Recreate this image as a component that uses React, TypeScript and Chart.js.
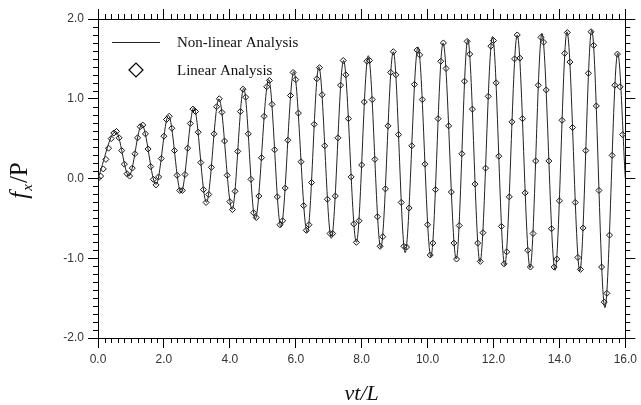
import React, { useEffect, useRef } from 'react';
import { Chart, registerables } from 'chart.js';

Chart.register(...registerables);

// Non-linear analysis: turning points of the response curve (vt/L, fx/P)
const nonLinearT = [0, 0.54, 0.94, 1.33, 1.76, 2.14, 2.52, 2.91, 3.29, 3.67, 4.07, 4.42, 4.77, 5.18, 5.55, 5.94, 6.35, 6.70, 7.08, 7.45, 7.84, 8.20, 8.58, 8.96, 9.32, 9.71, 10.10, 10.47, 10.87, 11.22, 11.59, 11.97, 12.34, 12.72, 13.11, 13.47, 13.87, 14.23, 14.62, 14.98, 15.38, 15.77, 16.0];
const nonLinearF = [0, 0.59, 0.03, 0.675, -0.075, 0.79, -0.18, 0.89, -0.30, 1.0, -0.39, 1.13, -0.51, 1.24, -0.61, 1.34, -0.68, 1.40, -0.75, 1.48, -0.80, 1.54, -0.87, 1.59, -0.93, 1.65, -0.98, 1.70, -1.01, 1.74, -1.05, 1.78, -1.09, 1.80, -1.12, 1.82, -1.15, 1.84, -1.16, 1.86, -1.62, 1.57, 0.0];

// Linear analysis: sampled points (diamonds)
const linearT = [
  0.00, 0.08, 0.16, 0.24, 0.32, 0.40, 0.48, 0.56, 0.64, 0.72, 0.80, 0.88, 0.96, 1.04, 1.12, 1.20, 1.28, 1.36, 1.44, 1.52,
  1.60, 1.68, 1.76, 1.84, 1.92, 2.00, 2.08, 2.16, 2.24, 2.32, 2.40, 2.48, 2.56, 2.64, 2.72, 2.80, 2.88, 2.96, 3.04, 3.12,
  3.20, 3.28, 3.36, 3.44, 3.52, 3.60, 3.68, 3.76, 3.84, 3.92, 4.00, 4.08, 4.16, 4.24, 4.32, 4.40, 4.48, 4.56, 4.64, 4.72,
  4.80, 4.88, 4.96, 5.04, 5.12, 5.20, 5.28, 5.36, 5.44, 5.52, 5.60, 5.68, 5.76, 5.84, 5.92, 6.00, 6.08, 6.16, 6.24, 6.32,
  6.40, 6.48, 6.56, 6.64, 6.72, 6.80, 6.88, 6.96, 7.04, 7.12, 7.20, 7.28, 7.36, 7.44, 7.52, 7.60, 7.68, 7.76, 7.84, 7.92,
  8.00, 8.08, 8.16, 8.24, 8.32, 8.40, 8.48, 8.56, 8.64, 8.72, 8.80, 8.88, 8.96, 9.04, 9.12, 9.20, 9.28, 9.36, 9.44, 9.52,
  9.60, 9.68, 9.76, 9.84, 9.92, 10.00, 10.08, 10.16, 10.24, 10.32, 10.40, 10.48, 10.56, 10.64, 10.72, 10.80, 10.88, 10.96, 11.04, 11.12,
  11.20, 11.28, 11.36, 11.44, 11.52, 11.60, 11.68, 11.76, 11.84, 11.92, 12.00, 12.08, 12.16, 12.24, 12.32, 12.40, 12.48, 12.56, 12.64, 12.72,
  12.80, 12.88, 12.96, 13.04, 13.12, 13.20, 13.28, 13.36, 13.44, 13.52, 13.60, 13.68, 13.76, 13.84, 13.92, 14.00, 14.08, 14.16, 14.24, 14.32,
  14.40, 14.48, 14.56, 14.64, 14.72, 14.80, 14.88, 14.96, 15.04, 15.12, 15.20, 15.28, 15.36, 15.44, 15.52, 15.60, 15.68, 15.76, 15.84, 15.92,
];
const linearF = [
  0.00, 0.03, 0.12, 0.24, 0.38, 0.50, 0.57, 0.59, 0.51, 0.35, 0.18, 0.06, 0.03, 0.13, 0.31, 0.51, 0.65, 0.67, 0.56, 0.37,
  0.15, -0.01, -0.08, 0.02, 0.25, 0.53, 0.74, 0.78, 0.63, 0.35, 0.04, -0.15, -0.15, 0.05, 0.38, 0.69, 0.87, 0.84, 0.58, 0.20,
  -0.14, -0.30, -0.20, 0.14, 0.56, 0.90, 1.00, 0.83, 0.47, 0.04, -0.29, -0.39, -0.16, 0.34, 0.84, 1.12, 1.02, 0.56, -0.01, -0.43,
  -0.49, -0.22, 0.26, 0.78, 1.15, 1.23, 0.93, 0.36, -0.23, -0.58, -0.53, -0.12, 0.48, 1.04, 1.33, 1.24, 0.82, 0.21, -0.34, -0.65,
  -0.58, -0.05, 0.68, 1.25, 1.39, 1.05, 0.41, -0.26, -0.69, -0.69, -0.22, 0.51, 1.17, 1.48, 1.30, 0.75, 0.02, -0.57, -0.80, -0.53,
  0.17, 0.96, 1.47, 1.48, 0.99, 0.24, -0.48, -0.85, -0.73, -0.13, 0.66, 1.33, 1.59, 1.30, 0.55, -0.30, -0.85, -0.86, -0.37, 0.41,
  1.18, 1.61, 1.55, 0.99, 0.18, -0.58, -0.96, -0.81, -0.14, 0.75, 1.47, 1.70, 1.38, 0.66, -0.17, -0.81, -1.01, -0.59, 0.31, 1.22,
  1.72, 1.56, 0.87, -0.07, -0.81, -1.04, -0.68, 0.13, 1.03, 1.66, 1.73, 1.20, 0.28, -0.60, -1.07, -0.92, -0.23, 0.71, 1.50, 1.80,
  1.51, 0.75, -0.18, -0.90, -1.11, -0.69, 0.22, 1.17, 1.77, 1.71, 1.11, 0.22, -0.63, -1.11, -1.01, -0.28, 0.73, 1.57, 1.83, 1.46,
  0.64, -0.30, -0.99, -1.14, -0.62, 0.35, 1.32, 1.84, 1.67, 0.91, -0.15, -1.11, -1.55, -1.44, -0.71, 0.29, 1.17, 1.56, 1.15, 0.55,
];

const xMin = 0;
const xMax = 16;
const xMajorStep = 2;
const xMinorStep = 0.2;
const yMin = -2;
const yMax = 2;
const yMajorStep = 1;
const yMinorStep = 0.1;

const seriesNames = ['Non-linear Analysis', 'Linear Analysis'];
const xTitle = 'vt/L';
const yTitleParts = ['f', 'x', '/P'];

const SERIF = '"Liberation Serif", "Times New Roman", serif';

export default function App() {
  const ref = useRef<HTMLCanvasElement>(null);

  useEffect(() => {
    document.body.style.margin = '0';
    const canvas = ref.current;
    if (!canvas) return;

    const decor = {
      id: 'decor',
      afterDraw(chart: any) {
        const ctx = chart.ctx as CanvasRenderingContext2D;
        const { left, right, top, bottom } = chart.chartArea;
        const sx = chart.scales.x;
        const sy = chart.scales.y;
        ctx.save();
        // minor ticks (outside) on all four sides
        ctx.strokeStyle = '#000';
        ctx.lineWidth = 1;
        ctx.beginPath();
        const nx = Math.round((xMax - xMin) / xMinorStep);
        const perMajX = Math.round(xMajorStep / xMinorStep);
        for (let k = 0; k <= nx; k++) {
          if (k % perMajX === 0) continue;
          const px = Math.round(sx.getPixelForValue(xMin + k * xMinorStep)) + 0.5;
          ctx.moveTo(px, bottom);
          ctx.lineTo(px, bottom + 5);
          ctx.moveTo(px, top);
          ctx.lineTo(px, top - 5);
        }
        const ny = Math.round((yMax - yMin) / yMinorStep);
        const perMajY = Math.round(yMajorStep / yMinorStep);
        for (let k = 0; k <= ny; k++) {
          if (k % perMajY === 0) continue;
          const py = Math.round(sy.getPixelForValue(yMin + k * yMinorStep)) + 0.5;
          ctx.moveTo(left, py);
          ctx.lineTo(left - 5, py);
          ctx.moveTo(right, py);
          ctx.lineTo(right + 5, py);
        }
        ctx.stroke();

        // legend inside plot
        const lx = left + 14;
        const ly1 = top + 23;
        const ly2 = top + 51;
        ctx.strokeStyle = '#222';
        ctx.lineWidth = 1;
        ctx.beginPath();
        ctx.moveTo(lx, Math.round(ly1) + 0.5);
        ctx.lineTo(lx + 48, Math.round(ly1) + 0.5);
        ctx.stroke();
        const dx = lx + 24;
        const r = 7;
        ctx.strokeStyle = '#000';
        ctx.lineWidth = 1.2;
        ctx.beginPath();
        ctx.moveTo(dx - r, ly2);
        ctx.lineTo(dx, ly2 - r);
        ctx.lineTo(dx + r, ly2);
        ctx.lineTo(dx, ly2 + r);
        ctx.closePath();
        ctx.stroke();
        ctx.fillStyle = '#111';
        ctx.font = '15px ' + SERIF;
        ctx.textBaseline = 'middle';
        ctx.textAlign = 'left';
        ctx.fillText(seriesNames[0], lx + 65, ly1 + 1);
        ctx.fillText(seriesNames[1], lx + 65, ly2 + 1);

        // x-axis title
        ctx.font = 'italic 22px ' + SERIF;
        ctx.textAlign = 'center';
        ctx.textBaseline = 'middle';
        ctx.fillText(xTitle, (left + right) / 2, bottom + 56);

        // y-axis title (rotated) f_x/P
        ctx.textAlign = 'left';
        const cy = (top + bottom) / 2 + 2;
        ctx.translate(27, cy);
        ctx.rotate(-Math.PI / 2);
        const big = 'italic 25px ' + SERIF;
        const small = 'italic 15px ' + SERIF;
        const upright = '25px ' + SERIF;
        ctx.textBaseline = 'alphabetic';
        ctx.font = big;
        const w0 = ctx.measureText(yTitleParts[0]).width;
        ctx.font = small;
        const w1 = ctx.measureText(yTitleParts[1]).width;
        ctx.font = upright;
        const w2 = ctx.measureText(yTitleParts[2]).width;
        let x0 = -(w0 + w1 + w2 + 2) / 2;
        ctx.font = big;
        ctx.fillText(yTitleParts[0], x0, 0);
        x0 += w0 + 1;
        ctx.font = small;
        ctx.fillText(yTitleParts[1], x0, 5);
        x0 += w1 + 1;
        ctx.font = upright;
        ctx.fillText(yTitleParts[2], x0, 0);
        ctx.restore();
      },
    };

    const tickFont = { family: '"Liberation Sans", Arial, sans-serif', size: 12 };
    const fmt = (v: any) => Number(v).toFixed(1);

    const chart = new Chart(canvas, {
      type: 'scatter',
      data: {
        datasets: [
          {
            label: seriesNames[0],
            data: nonLinearT.map((x, i) => ({ x, y: nonLinearF[i] })),
            showLine: true,
            pointRadius: 0,
            borderColor: '#222',
            borderWidth: 1,
            cubicInterpolationMode: 'monotone',
            order: 1,
          },
          {
            label: seriesNames[1],
            data: linearT.map((x, i) => ({ x, y: linearF[i] })),
            showLine: false,
            pointStyle: 'rectRot',
            pointRadius: 3,
            borderColor: '#111',
            borderWidth: 1,
            backgroundColor: 'rgba(255,255,255,0)',
            order: 2,
          },
        ],
      },
      options: {
        responsive: false,
        animation: false,
        devicePixelRatio: 1,
        layout: { padding: 0 },
        plugins: { legend: { display: false }, tooltip: { enabled: false } },
        scales: {
          x: {
            type: 'linear',
            axis: 'x',
            position: 'bottom',
            min: xMin,
            max: xMax,
            ticks: { stepSize: xMajorStep, callback: fmt, font: tickFont, color: '#333', padding: 4, maxRotation: 0, autoSkip: false },
            grid: { drawOnChartArea: false, drawTicks: true, tickLength: 10, color: '#000', lineWidth: 1 },
            border: { display: true, color: '#000', width: 1 },
            afterFit: (s: any) => { s.height = 67; },
          },
          x2: {
            type: 'linear',
            axis: 'x',
            position: 'top',
            min: xMin,
            max: xMax,
            ticks: { stepSize: xMajorStep, display: false },
            grid: { drawOnChartArea: false, drawTicks: true, tickLength: 10, color: '#000', lineWidth: 1 },
            border: { display: true, color: '#000', width: 1 },
            afterFit: (s: any) => { s.height = 19; },
          },
          y: {
            type: 'linear',
            axis: 'y',
            position: 'left',
            min: yMin,
            max: yMax,
            ticks: { stepSize: yMajorStep, callback: fmt, font: tickFont, color: '#333', padding: 4 },
            grid: { drawOnChartArea: false, drawTicks: true, tickLength: 10, color: '#000', lineWidth: 1 },
            border: { display: true, color: '#000', width: 1 },
            afterFit: (s: any) => { s.width = 98; },
          },
          y2: {
            type: 'linear',
            axis: 'y',
            position: 'right',
            min: yMin,
            max: yMax,
            ticks: { stepSize: yMajorStep, display: false },
            grid: { drawOnChartArea: false, drawTicks: true, tickLength: 10, color: '#000', lineWidth: 1 },
            border: { display: true, color: '#000', width: 1 },
            afterFit: (s: any) => { s.width = 11; },
          },
        },
      } as any,
      plugins: [decor],
    });

    return () => chart.destroy();
  }, []);

  return <canvas ref={ref} width={641} height={405} style={{ display: 'block' }} />;
}
